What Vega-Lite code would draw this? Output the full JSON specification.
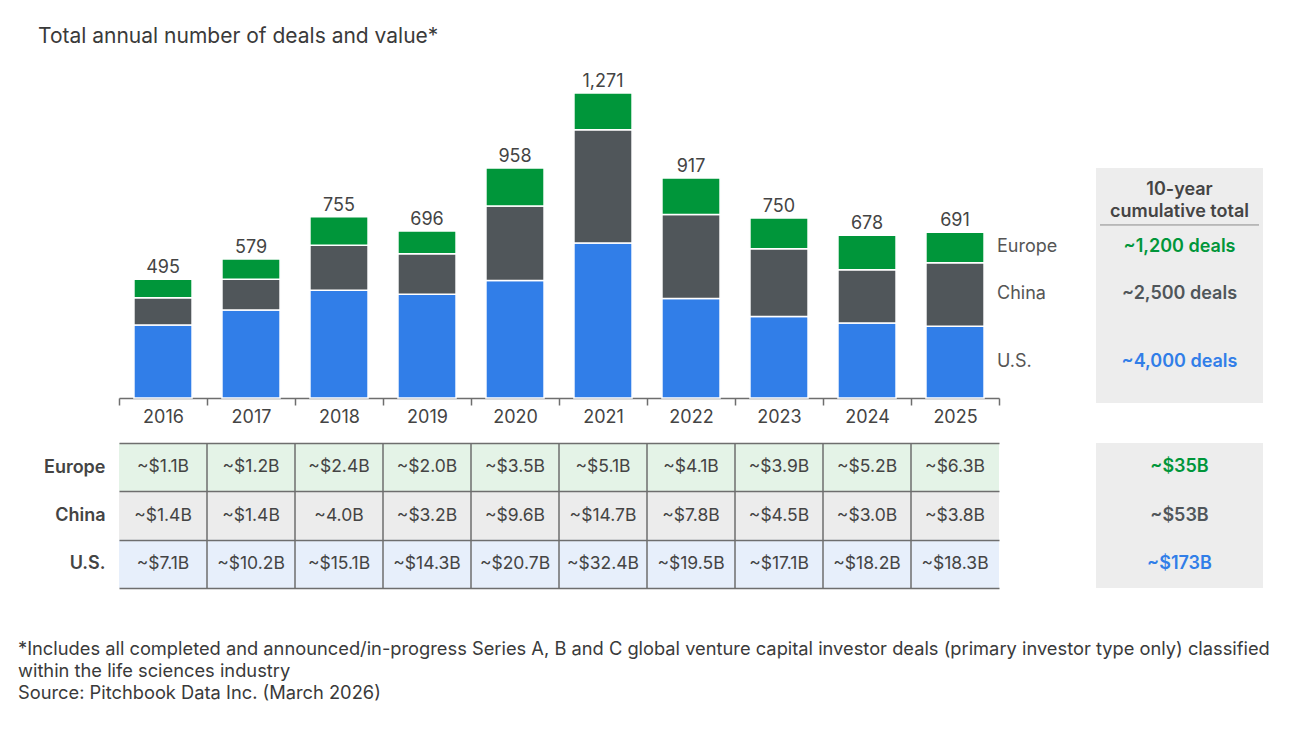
{
  "$schema": "https://vega.github.io/schema/vega-lite/v6.json",
  "background": "white",
  "padding": {"left": 18, "top": 26, "right": 10, "bottom": 10},
  "autosize": {"type": "pad"},
  "config": {
    "font": "Inter",
    "view": {"stroke": null},
    "axis": {"labelFont": "Inter", "titleFont": "Inter"},
    "title": {"font": "Inter"},
    "text": {"font": "Inter"}
  },
  "datasets": {
    "deals": [
      {"year": "2016", "region": "U.S.", "deals": 304},
      {"year": "2016", "region": "China", "deals": 114},
      {"year": "2016", "region": "Europe", "deals": 77},
      {"year": "2017", "region": "U.S.", "deals": 367},
      {"year": "2017", "region": "China", "deals": 128},
      {"year": "2017", "region": "Europe", "deals": 84},
      {"year": "2018", "region": "U.S.", "deals": 449},
      {"year": "2018", "region": "China", "deals": 188},
      {"year": "2018", "region": "Europe", "deals": 118},
      {"year": "2019", "region": "U.S.", "deals": 432},
      {"year": "2019", "region": "China", "deals": 169},
      {"year": "2019", "region": "Europe", "deals": 95},
      {"year": "2020", "region": "U.S.", "deals": 490},
      {"year": "2020", "region": "China", "deals": 310},
      {"year": "2020", "region": "Europe", "deals": 158},
      {"year": "2021", "region": "U.S.", "deals": 646},
      {"year": "2021", "region": "China", "deals": 472},
      {"year": "2021", "region": "Europe", "deals": 153},
      {"year": "2022", "region": "U.S.", "deals": 415},
      {"year": "2022", "region": "China", "deals": 350},
      {"year": "2022", "region": "Europe", "deals": 152},
      {"year": "2023", "region": "U.S.", "deals": 340},
      {"year": "2023", "region": "China", "deals": 282},
      {"year": "2023", "region": "Europe", "deals": 128},
      {"year": "2024", "region": "U.S.", "deals": 313},
      {"year": "2024", "region": "China", "deals": 221},
      {"year": "2024", "region": "Europe", "deals": 144},
      {"year": "2025", "region": "U.S.", "deals": 299},
      {"year": "2025", "region": "China", "deals": 265},
      {"year": "2025", "region": "Europe", "deals": 127}
    ],
    "values": [
      {"year": "2016", "region": "Europe", "value": "~$1.1B"},
      {"year": "2017", "region": "Europe", "value": "~$1.2B"},
      {"year": "2018", "region": "Europe", "value": "~$2.4B"},
      {"year": "2019", "region": "Europe", "value": "~$2.0B"},
      {"year": "2020", "region": "Europe", "value": "~$3.5B"},
      {"year": "2021", "region": "Europe", "value": "~$5.1B"},
      {"year": "2022", "region": "Europe", "value": "~$4.1B"},
      {"year": "2023", "region": "Europe", "value": "~$3.9B"},
      {"year": "2024", "region": "Europe", "value": "~$5.2B"},
      {"year": "2025", "region": "Europe", "value": "~$6.3B"},
      {"year": "2016", "region": "China", "value": "~$1.4B"},
      {"year": "2017", "region": "China", "value": "~$1.4B"},
      {"year": "2018", "region": "China", "value": "~4.0B"},
      {"year": "2019", "region": "China", "value": "~$3.2B"},
      {"year": "2020", "region": "China", "value": "~$9.6B"},
      {"year": "2021", "region": "China", "value": "~$14.7B"},
      {"year": "2022", "region": "China", "value": "~$7.8B"},
      {"year": "2023", "region": "China", "value": "~$4.5B"},
      {"year": "2024", "region": "China", "value": "~$3.0B"},
      {"year": "2025", "region": "China", "value": "~$3.8B"},
      {"year": "2016", "region": "U.S.", "value": "~$7.1B"},
      {"year": "2017", "region": "U.S.", "value": "~$10.2B"},
      {"year": "2018", "region": "U.S.", "value": "~$15.1B"},
      {"year": "2019", "region": "U.S.", "value": "~$14.3B"},
      {"year": "2020", "region": "U.S.", "value": "~$20.7B"},
      {"year": "2021", "region": "U.S.", "value": "~$32.4B"},
      {"year": "2022", "region": "U.S.", "value": "~$19.5B"},
      {"year": "2023", "region": "U.S.", "value": "~$17.1B"},
      {"year": "2024", "region": "U.S.", "value": "~$18.2B"},
      {"year": "2025", "region": "U.S.", "value": "~$18.3B"}
    ],
    "totals": [
      {"region": "Europe", "deals_label": "~1,200 deals", "value_label": "~$35B"},
      {"region": "China", "deals_label": "~2,500 deals", "value_label": "~$53B"},
      {"region": "U.S.", "deals_label": "~4,000 deals", "value_label": "~$173B"}
    ],
    "heading": [
      {"text": "10-year\ncumulative total"}
    ]
  },
  "bounds": "flush",
  "columns": 2,
  "spacing": {"row": 40, "column": 97},
  "concat": [
    {
      "width": 880,
      "height": 335,
      "title": {
        "text": "Total annual number of deals and value*",
        "anchor": "start",
        "frame": "group",
        "dx": -81,
        "offset": 16,
        "fontSize": 21,
        "fontWeight": "normal",
        "color": "#3a3a3a"
      },
      "data": {"name": "deals"},
      "transform": [
        {"calculate": "indexof(['U.S.', 'China', 'Europe'], datum.region)", "as": "rank"}
      ],
      "encoding": {
        "x": {
          "field": "year",
          "type": "ordinal",
          "scale": {"paddingInner": 0, "paddingOuter": 0},
          "axis": {
            "title": null,
            "labelAngle": 0,
            "tickBand": "extent",
            "tickSize": 7,
            "tickWidth": 1.5,
            "tickColor": "#6e6e6e",
            "domainColor": "#6e6e6e",
            "domainWidth": 1.5,
            "labelFontSize": 18,
            "labelColor": "#444444",
            "labelPadding": 3
          }
        }
      },
      "layer": [
        {
          "mark": {"type": "bar", "width": {"band": 0.66}, "stroke": "white", "strokeWidth": 1.5},
          "encoding": {
            "y": {
              "field": "deals",
              "type": "quantitative",
              "stack": "zero",
              "scale": {"domain": [0, 1396], "nice": false, "zero": true},
              "axis": null
            },
            "color": {
              "field": "region",
              "type": "nominal",
              "scale": {"domain": ["Europe", "China", "U.S."], "range": ["#00963a", "#50565a", "#317ee8"]},
              "legend": null
            },
            "order": {"field": "rank", "type": "quantitative"}
          }
        },
        {
          "transform": [
            {"aggregate": [{"op": "sum", "field": "deals", "as": "total"}], "groupby": ["year"]}
          ],
          "mark": {"type": "text", "baseline": "alphabetic", "dy": -6, "fontSize": 18, "color": "#444444"},
          "encoding": {
            "y": {"field": "total", "type": "quantitative"},
            "text": {"field": "total", "type": "quantitative", "format": ","}
          }
        },
        {
          "transform": [
            {"filter": "datum.year === '2025'"},
            {"stack": "deals", "groupby": ["year"], "sort": [{"field": "rank"}], "as": ["lo", "hi"]},
            {"calculate": "(datum.lo + datum.hi) / 2", "as": "mid"}
          ],
          "mark": {"type": "text", "align": "left", "baseline": "middle", "dx": 42, "fontSize": 18, "color": "#555555"},
          "encoding": {
            "y": {"field": "mid", "type": "quantitative"},
            "text": {"field": "region"}
          }
        }
      ]
    },
    {
      "width": 167,
      "height": 340,
      "layer": [
        {
          "data": {"name": "heading"},
          "mark": {"type": "rect", "color": "#ededed"},
          "encoding": {
            "y": {"datum": -21, "type": "quantitative", "scale": {"domain": [-21, 1396], "nice": false, "zero": false}, "axis": null},
            "y2": {"datum": 958}
          }
        },
        {
          "data": {"name": "heading"},
          "mark": {
            "type": "text",
            "fontSize": 18,
            "fontWeight": 600,
            "color": "#444444",
            "lineBreak": "\n",
            "lineHeight": 22,
            "baseline": "middle"
          },
          "encoding": {
            "text": {"field": "text"},
            "x": {
              "datum": 0.5,
              "type": "quantitative",
              "scale": {"domain": [0, 1], "range": [4, 163], "nice": false, "zero": false},
              "axis": null
            },
            "y": {"datum": 867, "type": "quantitative"}
          }
        },
        {
          "data": {"name": "heading"},
          "mark": {"type": "rule", "color": "#8a8a8a", "strokeWidth": 1},
          "encoding": {
            "x": {"datum": 0, "type": "quantitative"},
            "x2": {"datum": 1},
            "y": {"datum": 721, "type": "quantitative"}
          }
        },
        {
          "data": {"name": "deals"},
          "transform": [
            {"filter": "datum.year === '2025'"},
            {"calculate": "indexof(['U.S.', 'China', 'Europe'], datum.region)", "as": "rank"},
            {"stack": "deals", "groupby": ["year"], "sort": [{"field": "rank"}], "as": ["lo", "hi"]},
            {"calculate": "(datum.lo + datum.hi) / 2", "as": "mid"},
            {"lookup": "region", "from": {"data": {"name": "totals"}, "key": "region", "fields": ["deals_label"]}}
          ],
          "mark": {"type": "text", "fontSize": 18, "fontWeight": 600, "baseline": "middle"},
          "encoding": {
            "x": {"datum": 0.5, "type": "quantitative"},
            "y": {"field": "mid", "type": "quantitative"},
            "text": {"field": "deals_label"},
            "color": {
              "field": "region",
              "type": "nominal",
              "scale": {"domain": ["Europe", "China", "U.S."], "range": ["#00963a", "#50565a", "#317ee8"]},
              "legend": null
            }
          }
        }
      ]
    },
    {
      "width": 880,
      "height": 145,
      "title": {
        "text": [
          "*Includes all completed and announced/in-progress Series A, B and C global venture capital investor deals (primary investor type only) classified",
          "within the life sciences industry",
          "Source: Pitchbook Data Inc. (March 2026)"
        ],
        "orient": "bottom",
        "anchor": "start",
        "frame": "group",
        "dx": -101,
        "offset": 52,
        "fontSize": 18.3,
        "fontWeight": "normal",
        "lineHeight": 22,
        "color": "#3a3a3a"
      },
      "data": {"name": "values"},
      "encoding": {
        "x": {
          "field": "year",
          "type": "ordinal",
          "scale": {"paddingInner": 0, "paddingOuter": 0},
          "axis": null
        }
      },
      "layer": [
        {
          "mark": {"type": "rect"},
          "encoding": {
            "y": {
              "field": "region",
              "type": "nominal",
              "sort": ["Europe", "China", "U.S."],
              "scale": {"paddingInner": 0, "paddingOuter": 0},
              "axis": {
                "title": null,
                "domain": false,
                "ticks": false,
                "tickBand": "extent",
                "grid": true,
                "gridColor": "#6e6e6e",
                "gridWidth": 1.5,
                "zindex": 1,
                "labelFontSize": 18,
                "labelFontWeight": 600,
                "labelColor": "#444444",
                "labelPadding": 14
              }
            },
            "fill": {
              "field": "region",
              "type": "nominal",
              "scale": {"domain": ["Europe", "China", "U.S."], "range": ["#e4f3e7", "#ececec", "#e7effb"]},
              "legend": null
            }
          }
        },
        {
          "transform": [{"filter": "datum.region === 'Europe' && datum.year !== '2016'"}],
          "mark": {"type": "rule", "color": "#6e6e6e", "strokeWidth": 1.5},
          "encoding": {
            "x": {"field": "year", "type": "ordinal", "bandPosition": 0}
          }
        },
        {
          "mark": {"type": "text", "fontSize": 17.5, "color": "#444444"},
          "encoding": {
            "y": {"field": "region", "type": "nominal", "sort": ["Europe", "China", "U.S."]},
            "text": {"field": "value"}
          }
        }
      ]
    },
    {
      "width": 167,
      "height": 145,
      "view": {"fill": "#ededed", "stroke": null},
      "data": {"name": "totals"},
      "mark": {"type": "text", "fontSize": 18, "fontWeight": 600},
      "encoding": {
        "y": {
          "field": "region",
          "type": "nominal",
          "sort": ["Europe", "China", "U.S."],
          "scale": {"paddingInner": 0, "paddingOuter": 0},
          "axis": null
        },
        "text": {"field": "value_label"},
        "color": {
          "field": "region",
          "type": "nominal",
          "scale": {"domain": ["Europe", "China", "U.S."], "range": ["#00963a", "#50565a", "#317ee8"]},
          "legend": null
        }
      }
    }
  ]
}
